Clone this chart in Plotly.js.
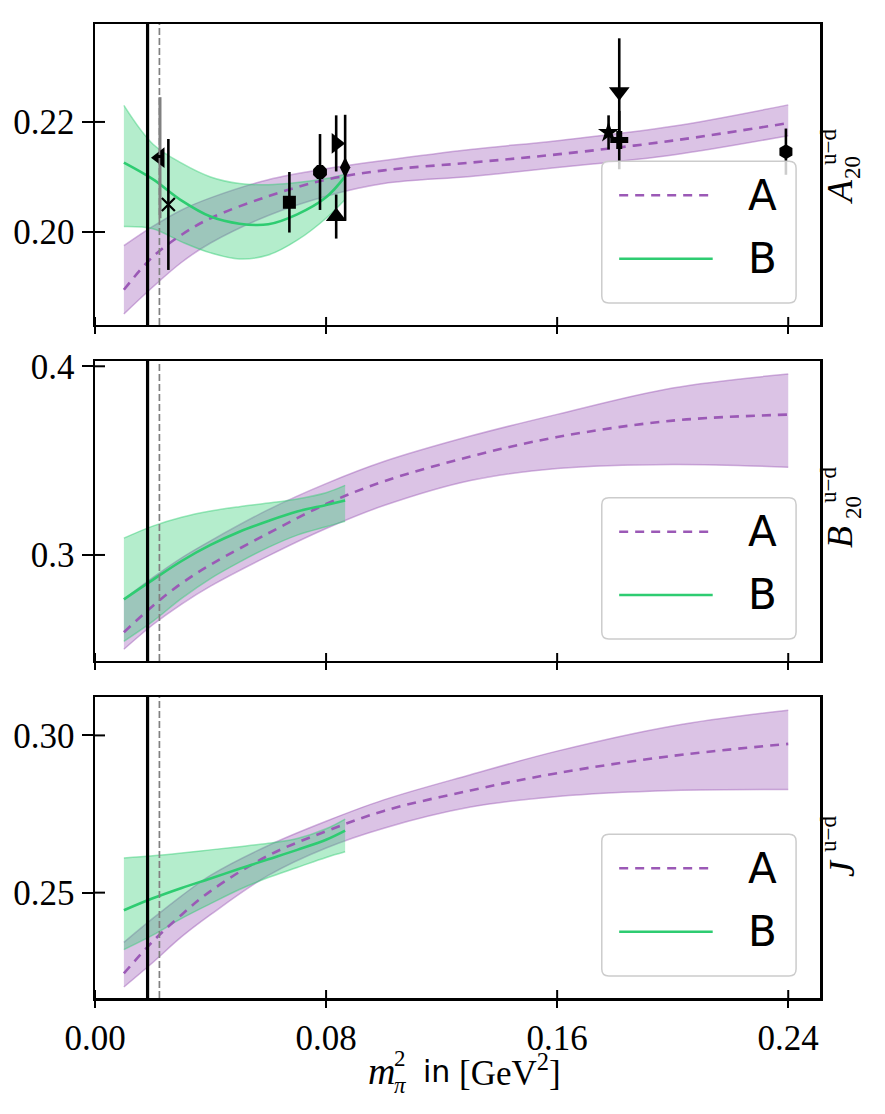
<!DOCTYPE html>
<html>
<head>
<meta charset="utf-8">
<script src="https://cdn.plot.ly/plotly-3.0.1.min.js"></script>
<style>
  html, body { margin: 0; padding: 0; background: #fff; }
  #chart { width: 885px; height: 1114px; }
</style>
</head>
<body>
<div id="chart"></div>
<script>
// Isovector A20, B20 and J versus the squared pion mass: two fit variants (A, B)
// with their uncertainty bands, plus lattice points for A20.

// reference pion masses squared [GeV^2]
const mpiPhys = 0.0182;
const mpiRef = 0.0223;

// ---------- fit A (purple) ----------
const xA = [0.01, 0.02, 0.03, 0.04, 0.06, 0.08, 0.10, 0.13, 0.16, 0.20, 0.24];
const a20A_mid = [0.1895, 0.1955, 0.1995, 0.2025, 0.2065, 0.2095, 0.2112, 0.2126, 0.2141, 0.2166, 0.2198];
const a20A_hi  = [0.1975, 0.2010, 0.2040, 0.2062, 0.2095, 0.2115, 0.2130, 0.2150, 0.2166, 0.2192, 0.2231];
const a20A_lo  = [0.1851, 0.1900, 0.1945, 0.1980, 0.2030, 0.2065, 0.2088, 0.2101, 0.2117, 0.2140, 0.2175];

const b20A_mid = [0.2590, 0.2730, 0.2850, 0.2948, 0.3115, 0.3270, 0.3390, 0.3522, 0.3625, 0.3712, 0.3744];
const b20A_hi  = [0.2765, 0.2880, 0.2985, 0.3075, 0.3240, 0.3378, 0.3495, 0.3630, 0.3745, 0.3885, 0.3959];
const b20A_lo  = [0.2500, 0.2630, 0.2740, 0.2835, 0.2995, 0.3140, 0.3262, 0.3395, 0.3458, 0.3480, 0.3465];

const jA_mid = [0.2243, 0.2345, 0.2430, 0.2505, 0.2618, 0.2695, 0.2760, 0.2825, 0.2880, 0.2935, 0.2973];
const jA_hi  = [0.2342, 0.2418, 0.2490, 0.2555, 0.2650, 0.2727, 0.2795, 0.2875, 0.2950, 0.3030, 0.3080];
const jA_lo  = [0.2200, 0.2278, 0.2360, 0.2430, 0.2555, 0.2642, 0.2705, 0.2772, 0.2806, 0.2825, 0.2828];

// ---------- fit B (green) ----------
const xB = [0.01, 0.02, 0.03, 0.04, 0.05, 0.06, 0.07, 0.08, 0.0866];
const a20B_mid = [0.2126, 0.2096, 0.2057, 0.2028, 0.2015, 0.2014, 0.2032, 0.2063, 0.2101];
const a20B_hi  = [0.2230, 0.2160, 0.2125, 0.2100, 0.2088, 0.2086, 0.2090, 0.2097, 0.2105];
const a20B_lo  = [0.2010, 0.2006, 0.1982, 0.1962, 0.1951, 0.1958, 0.1985, 0.2025, 0.2059];

const b20B_mid = [0.2765, 0.2868, 0.2968, 0.3053, 0.3123, 0.3180, 0.3230, 0.3265, 0.3289];
const b20B_hi  = [0.3089, 0.3153, 0.3200, 0.3233, 0.3256, 0.3275, 0.3297, 0.3330, 0.3369];
const b20B_lo  = [0.2542, 0.2648, 0.2770, 0.2875, 0.2962, 0.3040, 0.3105, 0.3150, 0.3178];

const jB_mid = [0.2444, 0.2482, 0.2515, 0.2545, 0.2576, 0.2606, 0.2636, 0.2668, 0.2697];
const jB_hi  = [0.2610, 0.2617, 0.2626, 0.2636, 0.2646, 0.2657, 0.2672, 0.2703, 0.2734];
const jB_lo  = [0.2319, 0.2365, 0.2418, 0.2465, 0.2510, 0.2548, 0.2580, 0.2612, 0.2630];

// ---------- lattice points for A20 ----------
const ptX   = [0.0254, 0.0673, 0.0779, 0.0835, 0.0835, 0.0866, 0.1778, 0.1815, 0.1815, 0.2392];
const ptY   = [0.2050, 0.2054, 0.2109, 0.2161, 0.2028, 0.2117, 0.2181, 0.2255, 0.2167, 0.2146];
const ptErr = [0.0119, 0.0055, 0.0069, 0.0051, 0.0040, 0.0096, 0.0031, 0.0097, 0.0053, 0.0042];
const ptSym = ['x-thin', 'square', 'octagon', 'triangle-right', 'triangle-up', 'diamond-tall',
               'star', 'triangle-down', 'cross', 'hexagon'];
// point with the grey error bar
const greyX = [0.0225];
const greyY = [0.2135];
const greyErr = [0.0110];

// ---------- axes ----------
const xTicks = [0, 0.08, 0.16, 0.24];
const xTickText = ['0.00', '0.08', '0.16', '0.24'];
const yTicksA20 = [0.20, 0.22];
const yTextA20 = ['0.20', '0.22'];
const yTicksB20 = [0.3, 0.4];
const yTextB20 = ['0.3', '0.4'];
const yTicksJ = [0.25, 0.30];
const yTextJ = ['0.25', '0.30'];
const legendNames = ['A', 'B'];

// ---------- geometry ----------
const W = 885, H = 1114;
const M = { l: 95, r: 65, t: 24, b: 116 };
const plotW = W - M.l - M.r, plotH = H - M.t - M.b;
const px2x = px => (px - M.l) / plotW;
const px2y = py => (H - M.b - py) / plotH;

const PURPLE = '#9b59b6', GREEN = '#2ecc71';
const PURPLE_FILL = 'rgba(155,89,182,0.36)', PURPLE_EDGE = 'rgba(155,89,182,0.45)';
const GREEN_FILL = 'rgba(46,204,113,0.36)', GREEN_EDGE = 'rgba(46,204,113,0.45)';
const SERIF = 'Liberation Serif, DejaVu Serif, serif';
const SANS = 'DejaVu Sans, sans-serif';

const panels = [
  { xa: 'x',  ya: 'y',  dom: [0.691, 1.0],   range: [0.1831, 0.2378], ticks: yTicksA20, text: yTextA20,
    A: [a20A_lo, a20A_hi, a20A_mid], B: [a20B_lo, a20B_hi, a20B_mid] },
  { xa: 'x2', ya: 'y2', dom: [0.346, 0.654], range: [0.2438, 0.4028], ticks: yTicksB20, text: yTextB20,
    A: [b20A_lo, b20A_hi, b20A_mid], B: [b20B_lo, b20B_hi, b20B_mid] },
  { xa: 'x3', ya: 'y3', dom: [0.0, 0.309],   range: [0.2165, 0.3122], ticks: yTicksJ, text: yTextJ,
    A: [jA_lo, jA_hi, jA_mid], B: [jB_lo, jB_hi, jB_mid] }
];

const traces = [];
function bandTraces(x, lo, hi, fill, edge, xa, ya) {
  const common = { x: x, xaxis: xa, yaxis: ya, mode: 'lines', hoverinfo: 'skip', showlegend: false };
  traces.push(Object.assign({}, common, { y: lo, line: { color: edge, width: 1.5, shape: 'spline' } }));
  traces.push(Object.assign({}, common, { y: hi, line: { color: edge, width: 1.5, shape: 'spline' },
                                          fill: 'tonexty', fillcolor: fill }));
}

panels.forEach(p => {
  bandTraces(xA, p.A[0], p.A[1], PURPLE_FILL, PURPLE_EDGE, p.xa, p.ya);
  bandTraces(xB, p.B[0], p.B[1], GREEN_FILL, GREEN_EDGE, p.xa, p.ya);
  traces.push({ x: xA, y: p.A[2], xaxis: p.xa, yaxis: p.ya, mode: 'lines', hoverinfo: 'skip', showlegend: false,
                line: { color: PURPLE, width: 2.6, dash: '9px,7px', shape: 'spline' } });
  traces.push({ x: xB, y: p.B[2], xaxis: p.xa, yaxis: p.ya, mode: 'lines', hoverinfo: 'skip', showlegend: false,
                line: { color: GREEN, width: 2.6, shape: 'spline' } });
});

// lattice data in the A20 panel
traces.push({
  x: greyX, y: greyY, xaxis: 'x', yaxis: 'y', mode: 'markers', hoverinfo: 'skip', showlegend: false,
  error_y: { type: 'data', array: greyErr, visible: true, color: '#808080', thickness: 3, width: 0 },
  marker: { symbol: 'triangle-left', size: 18, color: '#000', opacity: 1 }
});
traces.push({
  x: ptX, y: ptY, xaxis: 'x', yaxis: 'y', mode: 'markers', hoverinfo: 'skip', showlegend: false,
  error_y: { type: 'data', array: ptErr, visible: true, color: '#000', thickness: 2.6, width: 0 },
  marker: { symbol: ptSym, size: [13, 13, 15, 18, 18, 15, 16, 18, 15, 15], color: '#000', opacity: 1,
            line: { color: '#000', width: [2.2, 0, 0, 0, 0, 0, 0, 0, 0, 0] } }
});

// ---------- layout ----------
const tickFont = { family: SERIF, size: 35, color: '#000' };
const xBase = {
  range: [0, 0.251], tickvals: xTicks, ticktext: xTickText, ticks: 'outside', ticklen: 7, tickwidth: 2,
  tickcolor: '#000', showline: true, linewidth: 2.5, linecolor: '#000', mirror: true,
  showgrid: false, zeroline: false, tickfont: tickFont, domain: [0, 1], fixedrange: true
};
const layout = {
  width: W, height: H, margin: M, paper_bgcolor: '#fff', plot_bgcolor: '#fff', showlegend: false,
  xaxis:  Object.assign({}, xBase, { anchor: 'y',  showticklabels: false }),
  xaxis2: Object.assign({}, xBase, { anchor: 'y2', showticklabels: false }),
  xaxis3: Object.assign({}, xBase, { anchor: 'y3', showticklabels: true }),
  shapes: [], annotations: []
};
panels.forEach((p, i) => {
  const key = i === 0 ? 'yaxis' : 'yaxis' + (i + 1);
  layout[key] = {
    domain: p.dom, range: p.range, anchor: p.xa, tickvals: p.ticks, ticktext: p.text,
    ticks: 'outside', ticklen: 11, tickwidth: 2, tickcolor: '#000', showline: true, linewidth: 2.5,
    linecolor: '#000', mirror: true, showgrid: false, zeroline: false, tickfont: tickFont, fixedrange: true
  };
});

// inner halves of the ticks, vertical reference lines, legends
panels.forEach((p, i) => {
  p.ticks.forEach(t => layout.shapes.push({
    type: 'line', xref: p.xa + ' domain', xsizemode: 'pixel', xanchor: 0, x0: 0, x1: 10,
    yref: p.ya, y0: t, y1: t, line: { color: '#000', width: 2 }
  }));
  xTicks.forEach(t => layout.shapes.push({
    type: 'line', xref: p.xa, x0: t, x1: t, yref: p.ya + ' domain', ysizemode: 'pixel', yanchor: 0,
    y0: 0, y1: 8, line: { color: '#000', width: 2 }
  }));
  layout.shapes.push({ type: 'line', xref: p.xa, x0: mpiPhys, x1: mpiPhys, yref: p.ya + ' domain', y0: 0, y1: 1,
                       line: { color: '#000', width: 3.2 } });
  layout.shapes.push({ type: 'line', xref: p.xa, x0: mpiRef, x1: mpiRef, yref: p.ya + ' domain', y0: 0, y1: 1,
                       line: { color: '#808080', width: 1.7, dash: '7px,3px' } });

  // legend frame with rounded corners (paper coordinates)
  const d0 = p.dom[0], d1 = p.dom[1];
  const lx0 = 0.699, lx1 = 0.967;
  const ly0 = d0 + 0.0733 * (d1 - d0), ly1 = d0 + 0.544 * (d1 - d0);
  const rx = 7 / plotW, ry = 7 / plotH;
  const path = `M ${lx0 + rx},${ly0} L ${lx1 - rx},${ly0} Q ${lx1},${ly0} ${lx1},${ly0 + ry} ` +
               `L ${lx1},${ly1 - ry} Q ${lx1},${ly1} ${lx1 - rx},${ly1} L ${lx0 + rx},${ly1} ` +
               `Q ${lx0},${ly1} ${lx0},${ly1 - ry} L ${lx0},${ly0 + ry} Q ${lx0},${ly0} ${lx0 + rx},${ly0} Z`;
  layout.shapes.push({ type: 'path', xref: 'paper', yref: 'paper', path: path,
                       fillcolor: 'rgba(255,255,255,0.8)', line: { color: '#cccccc', width: 1.5 } });
  const rows = [0.431, 0.22];
  layout.shapes.push({ type: 'line', xref: p.xa + ' domain', yref: p.ya + ' domain', x0: 0.723, x1: 0.852,
                       y0: rows[0], y1: rows[0], line: { color: PURPLE, width: 2.6, dash: '9px,7px' } });
  layout.shapes.push({ type: 'line', xref: p.xa + ' domain', yref: p.ya + ' domain', x0: 0.723, x1: 0.852,
                       y0: rows[1], y1: rows[1], line: { color: GREEN, width: 2.6 } });
  legendNames.forEach((name, k) => layout.annotations.push({
    xref: p.xa + ' domain', yref: p.ya + ' domain', x: 0.921, y: rows[k], text: name, showarrow: false,
    xanchor: 'center', yanchor: 'middle', font: { family: SANS, size: 42, color: '#000' }
  }));
});

// rotated axis labels on the right-hand side
function label(px, py, text, size) {
  layout.annotations.push({ xref: 'paper', yref: 'paper', x: px2x(px), y: px2y(py), text: text,
    textangle: -90, showarrow: false, xanchor: 'center', yanchor: 'middle',
    font: { family: SERIF, size: size, color: '#000' } });
}
label(840, 192, '<i>A</i>', 36); label(853, 168, '20', 23); label(828, 147, 'u\u2212d', 23);
label(840, 537, '<i>B</i>', 36); label(853, 508, '20', 23); label(828, 485, 'u\u2212d', 23);
label(842, 868, '<i>J</i>', 36); label(828, 834, 'u\u2212d', 23);

// x-axis title  m_pi^2 in [GeV^2]
function xt(px, py, text, family, size) {
  layout.annotations.push({ xref: 'paper', yref: 'paper', x: px2x(px), y: px2y(py), text: text,
    showarrow: false, xanchor: 'center', yanchor: 'middle', font: { family: family, size: size, color: '#000' } });
}
xt(381, 1071, '<i>m</i>', SERIF, 38);
xt(400, 1058, '2', SERIF, 23);
xt(400, 1085, '<i>\u03c0</i>', SERIF, 23);
xt(436, 1071, 'in', SANS, 30);
xt(510, 1070, '[GeV<sup>2</sup>]', SERIF, 35);

Plotly.newPlot('chart', traces, layout, { staticPlot: true, displayModeBar: false });
</script>
</body>
</html>
